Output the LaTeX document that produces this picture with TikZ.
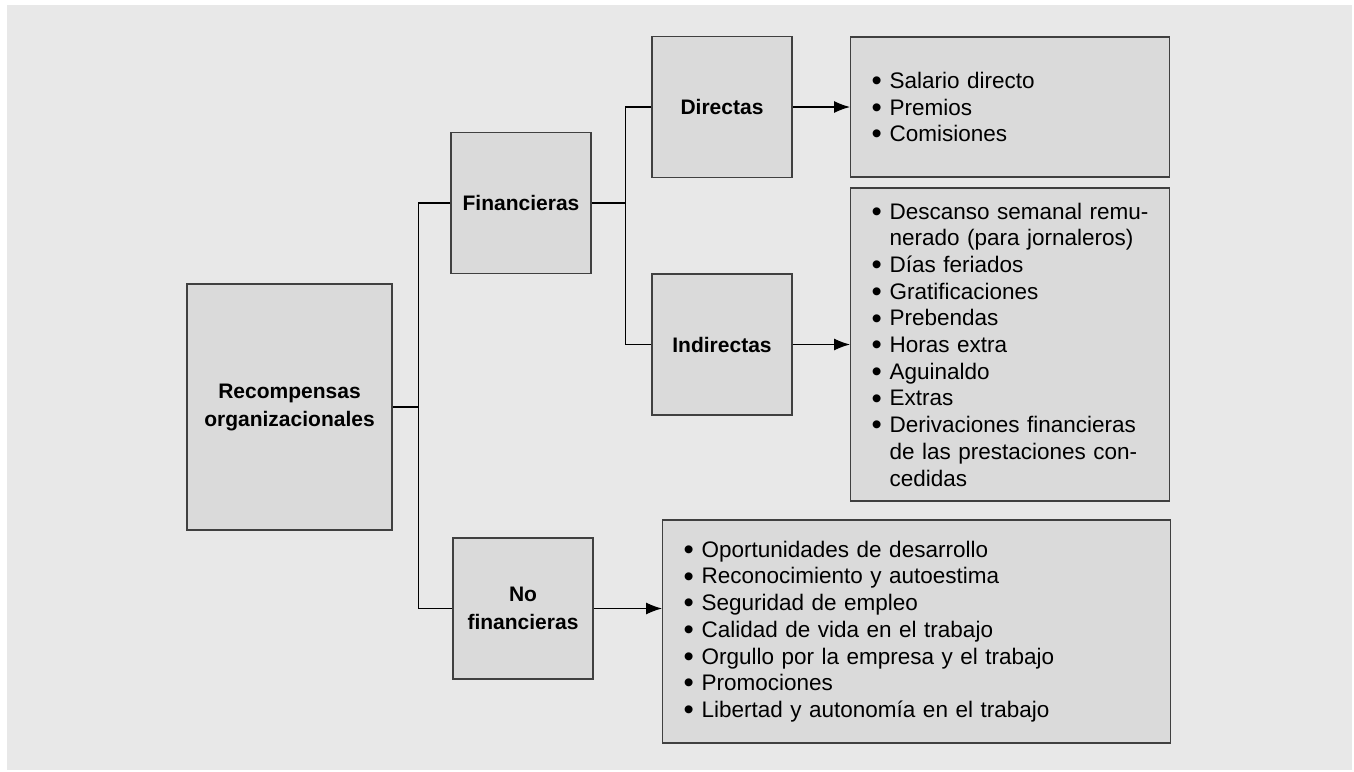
\documentclass[tikz,border=0pt]{standalone}
\usepackage{fontspec}
\setmainfont{Liberation Sans}
\usetikzlibrary{arrows.meta, positioning}

\definecolor{bggray}{HTML}{E8E8E8}
\definecolor{boxgray}{HTML}{DADADA}
\definecolor{edgegray}{HTML}{404040}

\newcommand{\itm}{\makebox[19pt][l]{\hspace{1pt}\smash{\raisebox{-0.1em}{\scalebox{1.3}{\textbullet}}}}}
\newcommand{\cont}{\hspace*{19pt}}

\begin{document}
\begin{tikzpicture}[
  x=1pt, y=-1pt,
  box/.style={rectangle, draw=edgegray, fill=boxgray, line width=1.3pt, inner sep=0pt},
  catbox/.style={box, minimum width=140pt, minimum height=141pt, align=center,
                 font=\fontsize{21}{28}\selectfont\bfseries},
  listbox/.style={box, anchor=west, align=left, inner xsep=20pt,
                  font=\fontsize{22.5}{26.7}\selectfont},
  link/.style={line width=1.1pt},
  arrow/.style={link, -{Latex[length=16pt, width=12pt]}}
]
\useasboundingbox (0,0) rectangle (1354,771);
\fill[bggray] (7,5) rectangle (1352,770);

\node[catbox, minimum width=205pt, minimum height=246pt] (rec) at (289.5,407) {Recompensas\\organizacionales};
\node[catbox] (fin) at (521,203) {Financieras};
\node[catbox] (dir) at (722,107) {Directas};
\node[catbox] (ind) at (722,344.5) {Indirectas};
\node[catbox] (nofin) at (523,608.5) {No\\financieras};

\node[listbox, text width=279pt, minimum height=140pt] (dirlist) at (850,107) {%
  \itm Salario directo\\
  \itm Premios\\
  \itm Comisiones};
\node[listbox, text width=279pt, minimum height=313pt] (indlist) at (850,344.5) {%
  \itm Descanso semanal remu-\\
  \cont nerado (para jornaleros)\\
  \itm Días feriados\\
  \itm Gratificaciones\\
  \itm Prebendas\\
  \itm Horas extra\\
  \itm Aguinaldo\\
  \itm Extras\\
  \itm Derivaciones financieras\\
  \cont de las prestaciones con-\\
  \cont cedidas};
\node[listbox, text width=468pt, minimum height=223pt] (nflist) at (662,631.5) {%
  \itm Oportunidades de desarrollo\\
  \itm Reconocimiento y autoestima\\
  \itm Seguridad de empleo\\
  \itm Calidad de vida en el trabajo\\
  \itm Orgullo por la empresa y el trabajo\\
  \itm Promociones\\
  \itm Libertad y autonomía en el trabajo};

% tree connectors
\coordinate (trunk) at ([xshift=26pt]rec.east);
\coordinate (fork) at ([xshift=34pt]fin.east);
\draw[link] (rec.east) -- (trunk);
\draw[link] (fin.west) -| (trunk);
\draw[link] (nofin.west) -| (trunk);
\draw[link] (fin.east) -- (fork);
\draw[link] (dir.west) -| (fork);
\draw[link] (ind.west) -| (fork);

\draw[arrow] (dir.east) -- (dirlist.west |- dir.east);
\draw[arrow] (ind.east) -- (indlist.west |- ind.east);
\draw[arrow] (nofin.east) -- (nflist.west |- nofin.east);
\end{tikzpicture}
\end{document}
